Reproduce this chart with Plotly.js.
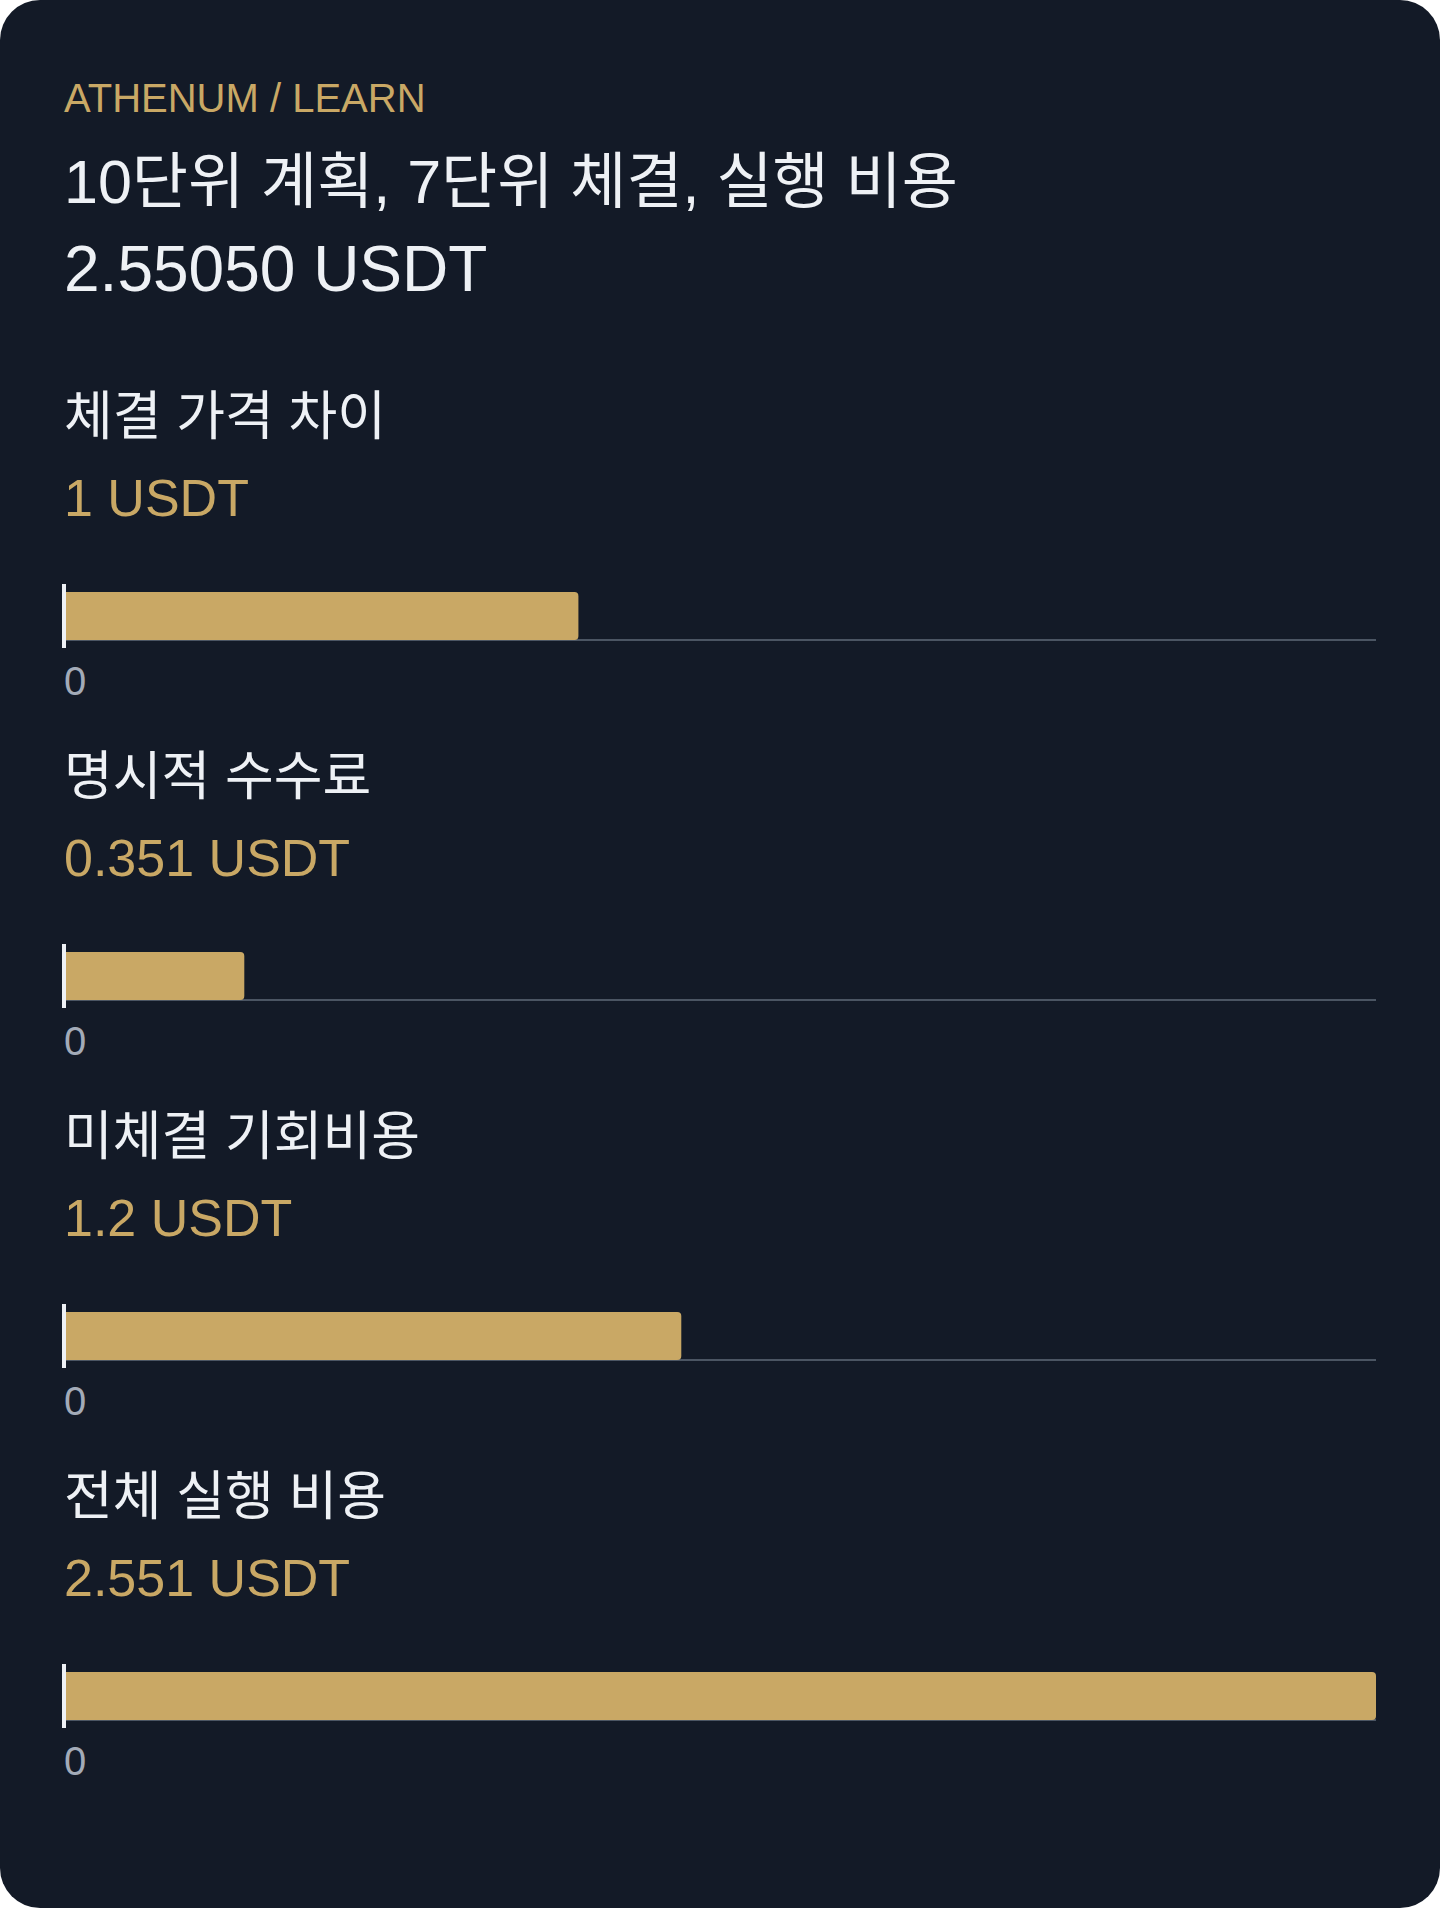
<!DOCTYPE html>
<html>
<head>
<meta charset="utf-8">
<script src="https://cdn.plot.ly/plotly-3.0.1.min.js"></script>
<style>
  html, body { margin: 0; padding: 0; background: #ffffff; }
  #card { position: absolute; left: 0; top: 0; width: 1440px; height: 1908px; background: #131a27; border-radius: 40px; overflow: hidden; }
  #chart { width: 1440px; height: 1908px; }
</style>
</head>
<body>
<div id="card"><div id="chart"></div></div>
<script>
// ---- data ----
const eyebrow = 'ATHENUM / LEARN';
const titleLines = ['10단위 계획, 7단위 체결, 실행 비용', '2.55050 USDT'];
const categories = ['체결 가격 차이', '명시적 수수료', '미체결 기회비용', '전체 실행 비용'];
const values = [1, 0.3505, 1.2, 2.5505];
const valueLabels = ['1 USDT', '0.351 USDT', '1.2 USDT', '2.551 USDT'];
const tickValues = [0];
const tickLabels = ['0'];

// ---- style / layout constants ----
const W = 1440, H = 1908;
const FONT = '"Liberation Sans", Arial, "Noto Sans CJK KR", sans-serif';
const GOLD = '#c9a865';
const WHITE = '#eef1f5';
const TICK = '#a3abb8';
const TRACK = '#4b5563';
const LEFT = 64, RIGHT = 1376;
const TEXT_X = 62;
const PITCH = 360;
const PLOT_TOP = 584, PLOT_H = 64;
const BAR_W = 0.75;
const TITLE_SIZES = [61, 64];
const xMax = Math.max(...values);

function py(px) { return 1 - px / H; }

const traces = [];
const layout = {
  width: W, height: H,
  margin: {l: 0, r: 0, t: 0, b: 0},
  paper_bgcolor: 'rgba(0,0,0,0)',
  plot_bgcolor: 'rgba(0,0,0,0)',
  showlegend: false,
  barcornerradius: 4,
  font: {family: FONT, color: WHITE},
  annotations: []
};

layout.annotations.push({
  xref: 'paper', yref: 'paper', x: TEXT_X / W, y: py(98), xanchor: 'left', yanchor: 'middle',
  text: eyebrow, showarrow: false, font: {family: FONT, size: 40, color: GOLD}
});
titleLines.forEach((t, i) => {
  layout.annotations.push({
    xref: 'paper', yref: 'paper', x: TEXT_X / W, y: py(182 + i * 87), xanchor: 'left', yanchor: 'middle',
    text: t, showarrow: false, font: {family: FONT, size: TITLE_SIZES[i], color: WHITE}
  });
});

categories.forEach((cat, k) => {
  const sfx = k === 0 ? '' : String(k + 1);
  const top = PLOT_TOP + k * PITCH;
  traces.push({
    type: 'bar', orientation: 'h',
    x: [values[k]], y: [0], width: BAR_W,
    xaxis: 'x' + sfx, yaxis: 'y' + sfx,
    marker: {color: GOLD, line: {width: 0}},
    hoverinfo: 'skip'
  });
  layout['xaxis' + sfx] = {
    domain: [LEFT / W, RIGHT / W], anchor: 'y' + sfx,
    range: [0, xMax], fixedrange: true,
    tickvals: tickValues, ticktext: tickLabels, ticks: '',
    tickfont: {family: FONT, size: 40, color: TICK},
    ticklabelposition: 'outside right',
    ticklabelstandoff: 6,
    showgrid: false, showline: false,
    zeroline: true, zerolinecolor: WHITE, zerolinewidth: 4,
    zerolinelayer: 'above traces'
  };
  layout['yaxis' + sfx] = {
    domain: [py(top + PLOT_H), py(top)], anchor: 'x' + sfx,
    range: [-0.5, 0.5], fixedrange: true,
    tickvals: [-BAR_W / 2], showticklabels: false, ticks: '',
    showgrid: true, gridcolor: TRACK, gridwidth: 2,
    zeroline: false, showline: false
  };
  layout.annotations.push({
    xref: 'paper', yref: 'paper', x: TEXT_X / W, y: py(416 + k * PITCH), xanchor: 'left', yanchor: 'middle',
    text: cat, showarrow: false, font: {family: FONT, size: 53, color: WHITE}
  });
  layout.annotations.push({
    xref: 'paper', yref: 'paper', x: TEXT_X / W, y: py(498 + k * PITCH), xanchor: 'left', yanchor: 'middle',
    text: valueLabels[k], showarrow: false, font: {family: FONT, size: 52, color: GOLD}
  });
});

Plotly.newPlot('chart', traces, layout, {staticPlot: true, displayModeBar: false});
</script>
</body>
</html>
